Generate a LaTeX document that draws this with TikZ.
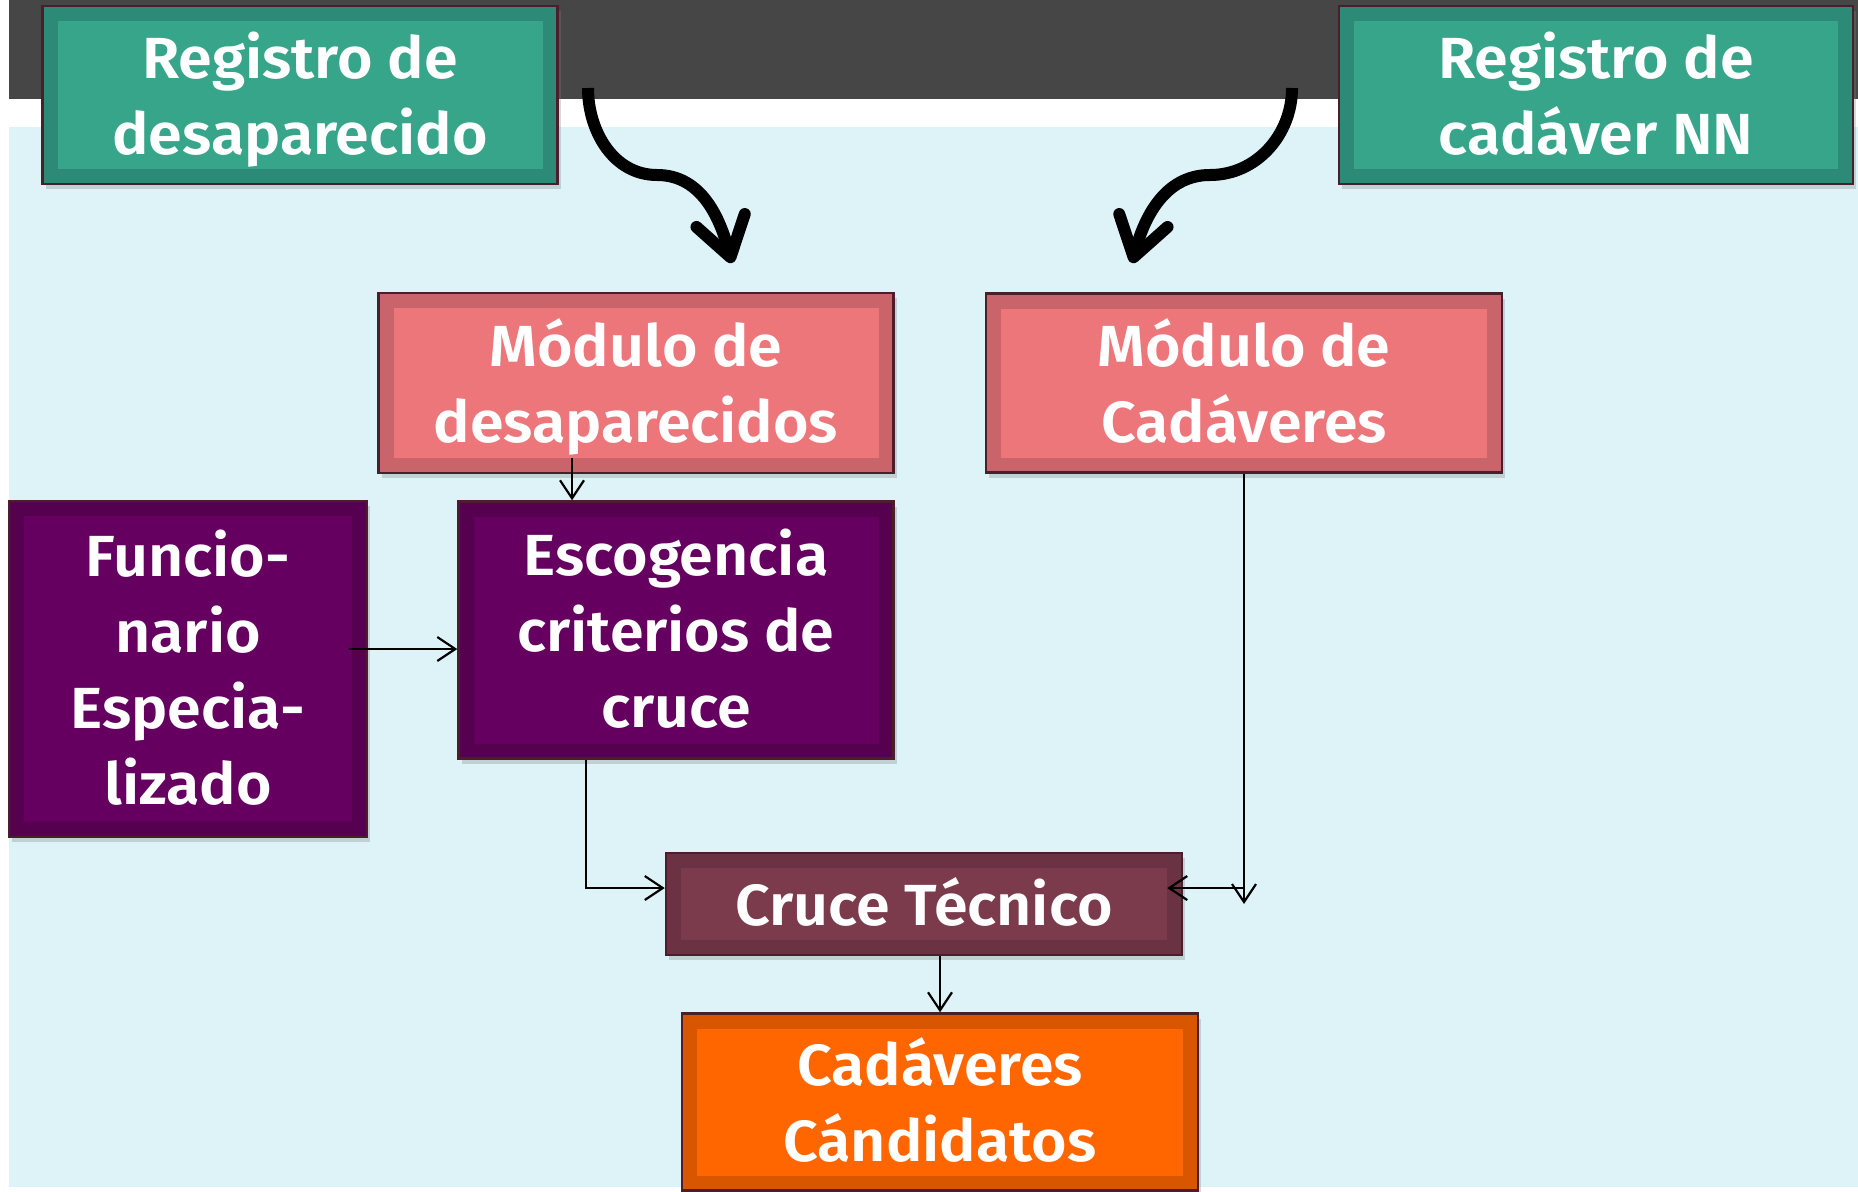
\documentclass[tikz,border=0pt]{standalone}
\usepackage{fontspec}
\setmainfont{Fira Sans}[BoldFont={Fira Sans SemiBold},FakeStretch=1.05]
\usetikzlibrary{arrows.meta,shadows}

\definecolor{fondoOscuro}{HTML}{464646}
\definecolor{celeste}{HTML}{DDF3F8}
\definecolor{borde}{HTML}{4A1E2A}
\definecolor{verdeOsc}{HTML}{2D8A77}
\definecolor{verdeCla}{HTML}{36A58A}
\definecolor{rosaOsc}{HTML}{C9646A}
\definecolor{rosaCla}{HTML}{EC767A}
\definecolor{moradoOsc}{HTML}{560050}
\definecolor{moradoCla}{HTML}{650060}
\definecolor{vinoOsc}{HTML}{6A3242}
\definecolor{vinoCla}{HTML}{7B3B4C}
\definecolor{naranjaOsc}{HTML}{D85600}
\definecolor{naranjaCla}{HTML}{FF6600}

\newcommand{\letra}{\bfseries\fontsize{16.5}{21.6}\selectfont}

\begin{document}
\begin{tikzpicture}[x=0.1mm,y=0.1mm,every text node part/.style={align=center},
    caja/.style 2 args={draw=borde,line width=0.25mm,fill=#1,text=white,font=\letra,inner sep=0pt,text depth=0pt,
      drop shadow={shadow xshift=0.3mm,shadow yshift=-0.5mm,opacity=0.3},
      path picture={\fill[#2] ([shift={(1.5mm,1.5mm)}]path picture bounding box.south west)
        rectangle ([shift={(-1.5mm,-1.5mm)}]path picture bounding box.north east);}},
    una/.style={text height=12.3pt},
    dos/.style={text height=33.9pt},
    tres/.style={text height=55.5pt},
    cuatro/.style={text height=77.1pt},
    flecha/.style={line width=0.22mm,-{Straight Barb[length=1.8mm,width=2.4mm]}},
    curva/.style={line width=1.2mm,-{Straight Barb[length=3.8mm,width=5mm,round]}}]

    \useasboundingbox (0,0) rectangle (1858,-1191);

    % --------------------------------------------------------- %
    % ------------- fondo
    % --------------------------------------------------------- %
    \fill[fondoOscuro] (9,0) rectangle (1858,-99);
    \fill[celeste] (9,-127) rectangle (1858,-1187);

    % --------------------------------------------------------- %
    % ------------- registros
    % --------------------------------------------------------- %
    \node[caja={verdeOsc}{verdeCla},dos,minimum width=51.5mm,minimum height=17.8mm] (regDes) at (300,-95) {Registro de\\desaparecido};
    \node[caja={verdeOsc}{verdeCla},dos,minimum width=51.4mm,minimum height=17.8mm] (regCad) at (1596,-95) {Registro de\\cadáver NN};

    \coordinate (iniDes) at (588,-88);
    \coordinate (medDes) at (657,-175);
    \coordinate (finDes) at (732,-263);
    \draw[curva] (iniDes) to[out=-90,in=180] (medDes) to[out=0,in=105] (finDes);

    \coordinate (iniCad) at (1292,-88);
    \coordinate (medCad) at (1210,-175);
    \coordinate (finCad) at (1132,-263);
    \draw[curva] (iniCad) to[out=-90,in=0] (medCad) to[out=180,in=75] (finCad);

    % --------------------------------------------------------- %
    % ------------- modulos
    % --------------------------------------------------------- %
    \node[caja={rosaOsc}{rosaCla},dos,minimum width=51.5mm,minimum height=18mm] (modDes) at (636,-383) {Módulo de\\desaparecidos};
    \node[caja={rosaOsc}{rosaCla},dos,minimum width=51.6mm,minimum height=17.9mm] (modCad) at (1244,-383) {Módulo de\\Cadáveres};

    % --------------------------------------------------------- %
    % ------------- criterios
    % --------------------------------------------------------- %
    \node[caja={moradoOsc}{moradoCla},cuatro,minimum width=35.8mm,minimum height=33.6mm] (funcio) at (188,-669) {Funcio-\\nario\\Especia-\\lizado};
    \node[caja={moradoOsc}{moradoCla},tres,minimum width=43.5mm,minimum height=25.7mm] (escog) at (676,-630) {Escogencia\\criterios de\\cruce};

    \coordinate (bajaDes) at ([xshift=-6.4mm,yshift=1.6mm]modDes.south);
    \draw[flecha] (bajaDes) -- (bajaDes |- escog.north);

    \coordinate (saleFun) at ([xshift=-1.9mm,yshift=2mm]funcio.east);
    \draw[flecha] (saleFun) -- (saleFun -| escog.west);

    % --------------------------------------------------------- %
    % ------------- cruce
    % --------------------------------------------------------- %
    \node[caja={vinoOsc}{vinoCla},una,minimum width=51.6mm,minimum height=10.2mm] (cruce) at (924,-904) {Cruce Técnico};
    \node[caja={naranjaOsc}{naranjaCla},dos,minimum width=51.6mm,minimum height=17.7mm] (candid) at (940,-1102) {Cadáveres\\Cándidatos};

    \coordinate (saleEsc) at ([xshift=12.9mm]escog.south west);
    \coordinate (entraCru) at ([yshift=1.6mm]cruce.west);
    \draw[flecha] (saleEsc) |- (entraCru);

    \draw[flecha] (modCad.south) -- (modCad.south |- cruce.east);
    \coordinate (entraCruDer) at ([xshift=-1.6mm,yshift=1.6mm]cruce.east);
    \draw[flecha] (entraCruDer -| modCad.south) -- (entraCruDer);

    \draw[flecha] (cruce.south -| candid.north) -- (candid.north);

  \end{tikzpicture}
\end{document}
